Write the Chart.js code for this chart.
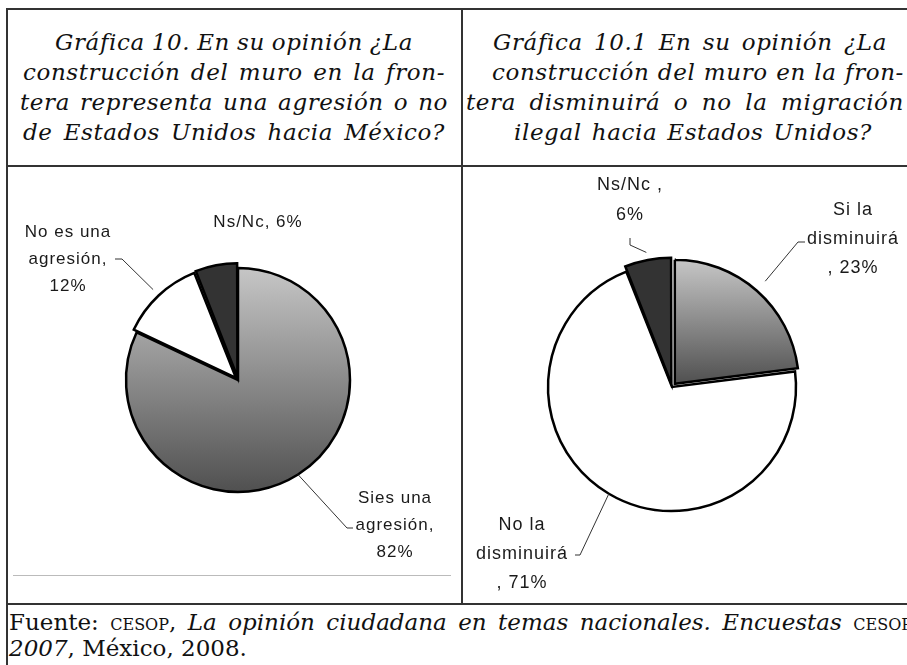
<!DOCTYPE html>
<html>
<head>
<meta charset="utf-8">
<script src="https://cdn.jsdelivr.net/npm/chart.js@4.4.0/dist/chart.umd.min.js"></script>
<style>
  body { margin: 0; background: #fff; }
  #hoja { position: relative; width: 907px; height: 665px; overflow: hidden; background: #fff; }
  .linea { position: absolute; background: #333; }
  .titulo div {
    position: absolute; height: 30px; white-space: nowrap;
    font-family: "DejaVu Serif", serif; font-style: italic; font-size: 23px;
    letter-spacing: 0.6px; line-height: 30px; color: #111;
  }
  .fuente div {
    position: absolute; height: 26px; white-space: nowrap;
    font-family: "DejaVu Serif", serif; font-size: 23px; line-height: 26px; color: #111;
  }
  .sc { font-variant: small-caps; }
  canvas { position: absolute; }
</style>
</head>
<body>
<div id="hoja">
  <!-- bordes de la tabla -->
  <div class="linea" style="left:6px; top:8px; width:901px; height:2px;"></div>
  <div class="linea" style="left:6px; top:8px; width:2px; height:657px;"></div>
  <div class="linea" style="left:461px; top:8px; width:2px; height:597px;"></div>
  <div class="linea" style="left:6px; top:165px; width:901px; height:2px;"></div>
  <div class="linea" style="left:6px; top:603px; width:901px; height:2px;"></div>
  <div class="linea" style="left:13px; top:575px; width:438px; height:1px; background:#bbb;"></div>

  <div class="titulo">
    <div data-w="358" style="left:55px; top:27px;">Gráfica 10. En su opinión ¿La</div>
    <div data-w="422" style="left:23px; top:57px;">construcción del muro en la fron-</div>
    <div data-w="428" style="left:20px; top:87px;">tera representa una agresión o no</div>
    <div data-w="422" style="left:23px; top:117px;">de Estados Unidos hacia México?</div>

    <div data-w="394" style="left:493px; top:27px;">Gráfica 10.1 En su opinión ¿La</div>
    <div data-w="412" style="left:492px; top:57px;">construcción del muro en la fron-</div>
    <div data-w="438" style="left:466px; top:87px;">tera disminuirá o no la migración</div>
    <div data-w="358" style="left:514px; top:117px;">ilegal hacia Estados Unidos?</div>
  </div>

  <canvas id="pie-agresion" width="453" height="435" style="left:8px; top:168px;"></canvas>
  <canvas id="pie-migracion" width="444" height="435" style="left:463px; top:168px;"></canvas>

  <div class="fuente">
    <div data-w="903" style="left:9px; top:609px;">Fuente: <span class="sc">cesop</span>, <i>La opinión ciudadana en temas nacionales. Encuestas</i> <span class="sc">cesop</span></div>
    <div style="left:9px; top:635px;"><i>2007</i>, México, 2008.</div>
  </div>
</div>

<script>
// ajustar cada renglón de texto al ancho que ocupa en el original
document.querySelectorAll("[data-w]").forEach(function (el) {
    var objetivo = +el.dataset.w;
    var natural = el.getBoundingClientRect().width;
    var huecos = el.textContent.split(" ").length - 1;
    if (huecos > 0) el.style.wordSpacing = ((objetivo - natural) / huecos).toFixed(2) + "px";
});

// datos
var categoriasAgresion = ["Sies una agresión", "No es una agresión", "Ns/Nc"];
var valoresAgresion = [82, 12, 6];
var textosAgresion = [["Sies una", "agresión,", "{v}%"], ["No es una", "agresión,", "{v}%"], ["Ns/Nc, {v}%"]];

var categoriasMigracion = ["Si la disminuirá", "No la disminuirá", "Ns/Nc"];
var valoresMigracion = [23, 71, 6];
var textosMigracion = [["Si la", "disminuirá", ", {v}%"], ["No la", "disminuirá", ", {v}%"], ["Ns/Nc ,", "{v}%"]];

// colocación de las etiquetas (coordenadas del canvas)
var posAgresion = [
    { x: 387, y: 330, lh: 27, codo: [339, 360], fin: [345, 360] },
    { x: 60, y: 64, lh: 27, codo: [114, 91], fin: [107, 91] },
    { x: 250, y: 54, lh: 27 },
];
var posMigracion = [
    { x: 390, y: 42, lh: 29, codo: [335, 74], fin: [342, 74] },
    { x: 59, y: 357, lh: 29, codo: [117, 387], fin: [112, 387] },
    { x: 167, y: 17, lh: 30, codo: [167, 77], fin: [167, 70] },
];

var etiquetasPlugin = {
    id: "etiquetas",
    afterDatasetsDraw: function (chart, args, opts) {
        var ctx = chart.ctx;
        var meta = chart.getDatasetMeta(0);
        var valores = chart.data.datasets[0].data;
        ctx.save();
        ctx.font = opts.size + "px 'Liberation Sans', Arial, sans-serif";
        ctx.letterSpacing = "1px";
        ctx.fillStyle = "#1a1a1a";
        ctx.textAlign = "center";
        ctx.textBaseline = "middle";
        meta.data.forEach(function (arc, i) {
            var p = opts.pos[i];
            var lineas = opts.textos[i];
            lineas.forEach(function (t, j) {
                ctx.fillText(t.replace("{v}", valores[i]), p.x, p.y + j * p.lh);
            });
            if (p.codo) {
                var a = (arc.startAngle + arc.endAngle) / 2;
                var r = arc.outerRadius + (arc.options.offset || 0);
                ctx.beginPath();
                ctx.strokeStyle = "#333";
                ctx.lineWidth = 1;
                ctx.moveTo(arc.x + Math.cos(a) * r, arc.y + Math.sin(a) * r);
                ctx.lineTo(p.codo[0], p.codo[1]);
                ctx.lineTo(p.fin[0], p.fin[1]);
                ctx.stroke();
            }
        });
        ctx.restore();
    },
};

// degradado vertical gris para la rebanada indicada
var degradadoPlugin = {
    id: "degradado",
    beforeDatasetsDraw: function (chart, args, opts) {
        var meta = chart.getDatasetMeta(0);
        opts.indices.forEach(function (i) {
            var arc = meta.data[i];
            var ys = [arc.y, arc.y + Math.sin(arc.startAngle) * arc.outerRadius, arc.y + Math.sin(arc.endAngle) * arc.outerRadius];
            if (arc.startAngle <= -Math.PI / 2) ys.push(arc.y - arc.outerRadius);
            if (arc.startAngle <= Math.PI / 2 && arc.endAngle >= Math.PI / 2) ys.push(arc.y + arc.outerRadius);
            var g = chart.ctx.createLinearGradient(0, Math.min.apply(null, ys), 0, Math.max.apply(null, ys));
            g.addColorStop(0, "#c6c6c6");
            g.addColorStop(1, "#505050");
            arc.options.backgroundColor = g;
        });
    },
};

function pastel(id, categorias, valores, colores, offsets, radio, padding, textos, pos, tam, grad) {
    return new Chart(document.getElementById(id), {
        type: "pie",
        data: {
            labels: categorias,
            datasets: [
                {
                    data: valores,
                    backgroundColor: colores,
                    borderColor: "#000",
                    borderWidth: 2.5,
                    borderJoinStyle: "miter",
                    offset: offsets,
                },
            ],
        },
        options: {
            responsive: false,
            devicePixelRatio: 1,
            animation: false,
            radius: radio,
            layout: { padding: padding },
            plugins: {
                legend: { display: false },
                tooltip: { enabled: false },
                etiquetas: { textos: textos, pos: pos, size: tam },
                degradado: { indices: grad },
            },
        },
        plugins: [degradadoPlugin, etiquetasPlugin],
    });
}

pastel("pie-agresion", categoriasAgresion, valoresAgresion, ["#888", "#ffffff", "#333333"],
    [0, 12, 12], 112, { left: 7, right: 0, top: 0, bottom: 11 }, textosAgresion, posAgresion, 17, [0]);

pastel("pie-migracion", categoriasMigracion, valoresMigracion, ["#888", "#ffffff", "#333333"],
    [17, 0, 13], 124, { left: 0, right: 26, top: 3, bottom: 0 }, textosMigracion, posMigracion, 18, [0]);
</script>
</body>
</html>
